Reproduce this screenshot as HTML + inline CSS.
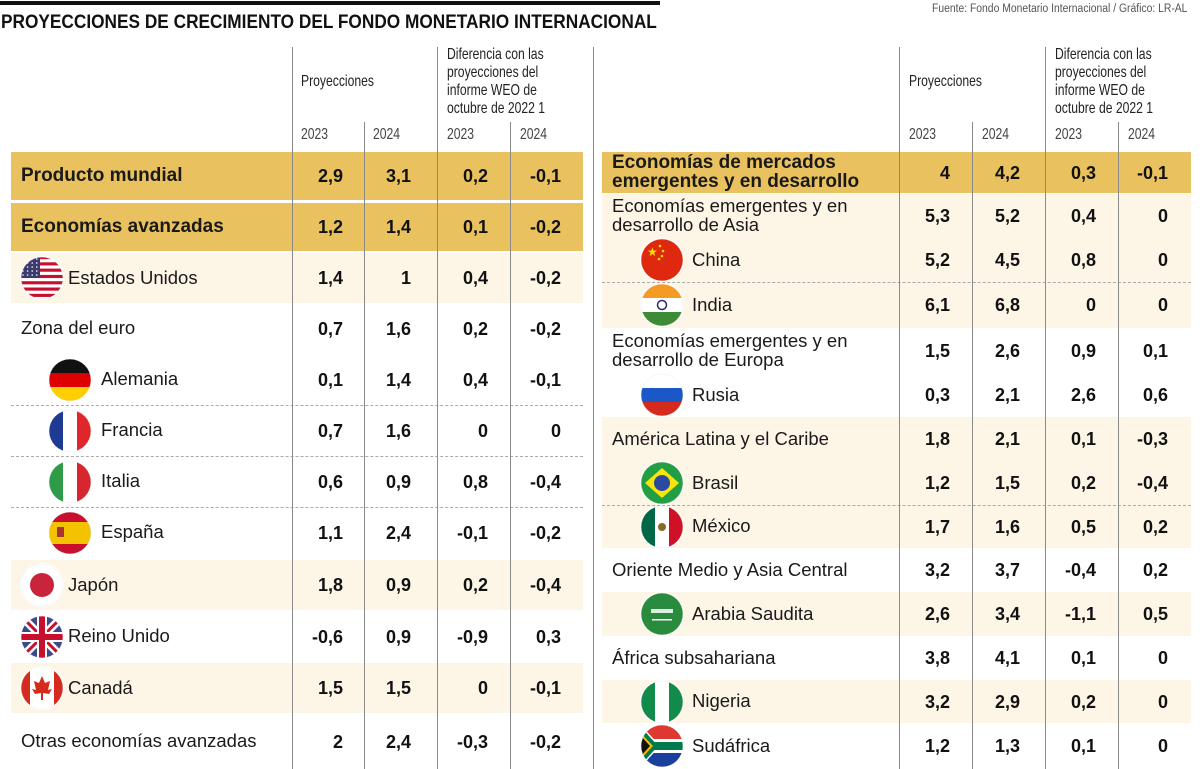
<!DOCTYPE html>
<html><head><meta charset="utf-8">
<style>
html,body{margin:0;padding:0;background:#fff;}
#root{position:relative;width:1200px;height:769px;overflow:hidden;font-family:"Liberation Sans",sans-serif;color:#111;}
.abs{position:absolute;}
.cond{transform-origin:left top;transform:scaleX(0.76);white-space:nowrap;font-size:16px;color:#222;line-height:18px;}
.val{position:absolute;font-weight:bold;font-size:18px;text-align:right;width:60px;line-height:20px;}
.lab{position:absolute;font-size:18.5px;line-height:19px;white-space:nowrap;color:#1a1a1a;}
.vl{position:absolute;width:1px;background:#8a8a8a;}
.dash{position:absolute;height:0;border-top:1.5px dashed #aaa;}
</style></head>
<body>
<div id="root">
  <div class="abs" style="left:0;top:1px;width:660px;height:4px;background:#111"></div>
  <div class="abs" style="left:1px;top:11px;font-size:19.5px;font-weight:bold;white-space:nowrap;transform-origin:left top;transform:scaleX(0.885)">PROYECCIONES DE CRECIMIENTO DEL FONDO MONETARIO INTERNACIONAL</div>
  <div class="abs" style="left:932px;top:3px;font-size:11.5px;color:#555;white-space:nowrap;transform-origin:left top;transform:scaleX(0.9)">Fuente: Fondo Monetario Internacional / Gráfico: LR-AL</div>
</div>
<script>
// ---- data ----
const leftLabels=["Producto mundial","Economías avanzadas","Estados Unidos","Zona del euro","Alemania","Francia","Italia","España","Japón","Reino Unido","Canadá","Otras economías avanzadas"];
const leftProj2023=["2,9","1,2","1,4","0,7","0,1","0,7","0,6","1,1","1,8","-0,6","1,5","2"];
const leftProj2024=["3,1","1,4","1","1,6","1,4","1,6","0,9","2,4","0,9","0,9","1,5","2,4"];
const leftDiff2023=["0,2","0,1","0,4","0,2","0,4","0","0,8","-0,1","0,2","-0,9","0","-0,3"];
const leftDiff2024=["-0,1","-0,2","-0,2","-0,2","-0,1","0","-0,4","-0,2","-0,4","0,3","-0,1","-0,2"];
const leftFlags=[null,null,"us",null,"de","fr","it","es","jp","uk","ca",null];
const rightLabels=["Economías de mercados|emergentes y en desarrollo","Economías emergentes y en|desarrollo de Asia","China","India","Economías emergentes y en|desarrollo de Europa","Rusia","América Latina y el Caribe","Brasil","México","Oriente Medio y Asia Central","Arabia Saudita","África subsahariana","Nigeria","Sudáfrica"];
const rightProj2023=["4","5,3","5,2","6,1","1,5","0,3","1,8","1,2","1,7","3,2","2,6","3,8","3,2","1,2"];
const rightProj2024=["4,2","5,2","4,5","6,8","2,6","2,1","2,1","1,5","1,6","3,7","3,4","4,1","2,9","1,3"];
const rightDiff2023=["0,3","0,4","0,8","0","0,9","2,6","0,1","0,2","0,5","-0,4","-1,1","0,1","0,2","0,1"];
const rightDiff2024=["-0,1","0","0","0","0,1","0,6","-0,3","-0,4","0,2","0,2","0,5","0","0","0"];
const rightFlags=[null,null,"cn","in",null,"ru",null,"br","mx",null,"sa",null,"ng","za"];

// ---- layout (not data) ----
const GOLD="#e9c15e", CREAM="#fdf5e6";
const leftBg=["g","g","c","w","w","w","w","w","c","w","c","w"];
const leftTop=[152,203,253,303,354,405,456,507,560,611,663,714];
const leftH=[48,48,50,51,51,51,51,51,50,51,50,55];
const leftDash=[5,6,7];
const leftIndent=[0,0,0,0,1,1,1,1,0,0,0,0];
const rightBg=["g","c","c","c","w","w","c","c","c","w","c","w","c","w"];
const rightTop=[152,194,238,282,328,373,417,461,505,548,592,636,680,723];
const rightH=[41,44,44,46,45,44,44,44,43,44,44,44,43,46];
const rightDash=[3,8];
const rightIndent=[0,0,1,1,0,1,0,1,1,0,1,0,1,1];

const root=document.getElementById('root');
function mk(tag,cls,style,html){const e=document.createElement(tag);if(cls)e.className=cls;if(style)e.style.cssText=style;if(html!==undefined)e.innerHTML=html;root.appendChild(e);return e;}

function flagSvg(c){
  let inner="";
  switch(c){
    case"us":{for(let i=0;i<7;i++)inner+=`<rect x="0" y="${i*6.3}" width="44" height="3.15" fill="#c8102e"/>`;inner+=`<rect x="0" y="0" width="20" height="22" fill="#3c3b6e"/>`;for(let r=0;r<5;r++)for(let k=0;k<4;k++)inner+=`<circle cx="${3+k*4.6}" cy="${3+r*4}" r="0.8" fill="#fff"/>`;break;}
    case"de":inner=`<rect width="44" height="15" fill="#111"/><rect y="15" width="44" height="14" fill="#dd0000"/><rect y="29" width="44" height="15" fill="#ffce00"/>`;break;
    case"fr":inner=`<rect width="15" height="44" fill="#1f3a93"/><rect x="29" width="15" height="44" fill="#e1262b"/>`;break;
    case"it":inner=`<rect width="15" height="44" fill="#2f9a48"/><rect x="29" width="15" height="44" fill="#d8262f"/>`;break;
    case"es":inner=`<rect width="44" height="44" fill="#c8102e"/><rect y="11" width="44" height="22" fill="#f4c300"/><rect x="9" y="16" width="7" height="10" fill="#a33"/>`;break;
    case"jp":inner=`<circle cx="22" cy="22" r="12" fill="#c8243c"/>`;break;
    case"uk":inner=`<rect width="44" height="44" fill="#3c4a8c"/><path d="M0 0L44 44M44 0L0 44" stroke="#fff" stroke-width="8"/><path d="M0 0L44 44M44 0L0 44" stroke="#c8102e" stroke-width="3"/><rect x="17" width="10" height="44" fill="#fff"/><rect y="17" width="44" height="10" fill="#fff"/><rect x="19" width="6" height="44" fill="#c8102e"/><rect y="19" width="44" height="6" fill="#c8102e"/>`;break;
    case"ca":inner=`<rect width="10" height="44" fill="#d52b1e"/><rect x="34" width="10" height="44" fill="#d52b1e"/><path d="M22 10L25 17L30 15L28 24L32 23L29 28L23 27L23 34L21 34L21 27L15 28L12 23L16 24L14 15L19 17Z" fill="#d52b1e"/>`;break;
    case"cn":inner=`<rect width="44" height="44" fill="#de2910"/><text x="7" y="18" font-size="12" fill="#ffde00">★</text><circle cx="20" cy="8" r="1.3" fill="#ffde00"/><circle cx="23" cy="13" r="1.3" fill="#ffde00"/><circle cx="22" cy="18" r="1.3" fill="#ffde00"/><circle cx="19" cy="21" r="1.3" fill="#ffde00"/>`;break;
    case"in":inner=`<rect width="44" height="15" fill="#f49b26"/><rect y="29" width="44" height="15" fill="#3d8b37"/><circle cx="22" cy="22" r="4.5" fill="none" stroke="#2a2a7a" stroke-width="1.5"/>`;break;
    case"ru":inner=`<rect y="15" width="44" height="14" fill="#1c57c8"/><rect y="29" width="44" height="15" fill="#d52b1e"/>`;break;
    case"br":inner=`<rect width="44" height="44" fill="#229e45"/><path d="M22 7L39 22L22 37L5 22Z" fill="#f8e509"/><circle cx="22" cy="22" r="8" fill="#2b49a3"/>`;break;
    case"mx":inner=`<rect width="15" height="44" fill="#006847"/><rect x="29" width="15" height="44" fill="#ce1126"/><circle cx="22" cy="22" r="4" fill="#8a6a2a"/>`;break;
    case"sa":inner=`<rect width="44" height="44" fill="#2a8a3e"/><rect x="11" y="17" width="22" height="4" fill="#fff" opacity="0.85"/><rect x="12" y="27" width="20" height="1.5" fill="#fff"/>`;break;
    case"ng":inner=`<rect width="15" height="44" fill="#118a4a"/><rect x="29" width="15" height="44" fill="#118a4a"/>`;break;
    case"za":inner=`<rect width="44" height="15" fill="#de3831"/><rect y="29" width="44" height="15" fill="#1b3f9c"/><path d="M0 0L20 22L0 44" fill="#fff"/><rect y="16" width="44" height="12" fill="#fff"/><rect y="18" width="44" height="8" fill="#007a4d"/><path d="M0 2L18 22L0 42Z" fill="#007a4d"/><path d="M0 8L13 22L0 36Z" fill="#f4b800"/><path d="M0 11L10 22L0 33Z" fill="#111"/>`;break;
  }
  return `<svg width="44" height="44" viewBox="0 0 44 44"><defs><clipPath id="cp${c}"><circle cx="22" cy="22" r="21"/></clipPath></defs><circle cx="22" cy="22" r="22" fill="#fff"/><g clip-path="url(#cp${c})">${inner}</g><circle cx="22" cy="22" r="21" fill="none" stroke="#eee" stroke-width="0.5"/></svg>`;
}

function buildTable(side,labels,p23,p24,d23,d24,flags,bg,tops,hs,dashes,indents,x0,x1,valRights,flagX,labX,labXind,flagXind){
  labels.forEach((lab,i)=>{
    const t=tops[i],h=hs[i];
    if(bg[i]!=="w"){
      const r=mk('div','abs',`left:${x0}px;top:${t}px;width:${x1-x0}px;height:${h}px;background:${bg[i]==="g"?GOLD:CREAM}`);
      
      
    }
    const cy=t+h/2;
    const lines=lab.split("|");
    const bold=bg[i]==="g";
    let lx=indents[i]?labXind:(flags[i]?labX:x0+10);
    if(flags[i]){
      const fx=indents[i]?flagXind:flagX;
      const f=mk('div','abs',`left:${fx}px;top:${cy-22}px;width:44px;height:44px`,flagSvg(flags[i]));
      
      
    }
    const l=mk('div','lab',`left:${lx}px;top:${cy-lines.length*9.5-1}px;font-weight:${bold?'bold':'normal'};font-size:${bold?19:18.5}px`,lines.join("<br>"));
    
    
    [p23[i],p24[i],d23[i],d24[i]].forEach((v,k)=>{
      const e=mk('div','val',`left:${valRights[k]-60}px;top:${cy-10}px`,v);
      
      
    });
  });
  dashes.forEach(i=>{
    const d=mk('div','dash',`left:${x0}px;top:${tops[i]}px;width:${x1-x0}px`);
    
    
  });
}

buildTable("left",leftLabels,leftProj2023,leftProj2024,leftDiff2023,leftDiff2024,leftFlags,leftBg,leftTop,leftH,leftDash,leftIndent,11,583,[343,411,488,561],20,68,101,48);
buildTable("right",rightLabels,rightProj2023,rightProj2024,rightDiff2023,rightDiff2024,rightFlags,rightBg,rightTop,rightH,rightDash,rightIndent,602,1191,[950,1020,1096,1168],640,692,692,640);

// vertical lines
[[292,47],[364,122],[437,47],[510,122],[593,47],[899,47],[972,122],[1045,47],[1118,122]].forEach(([x,y])=>{
  const v=mk('div','vl',`left:${x}px;top:${y}px;height:${769-y}px`);
  
  
});

// headers
function headers(side,px,dx,yrs){
  const p=mk('div','abs cond',`left:${px}px;top:73px`,"Proyecciones");
  
  
  const d=mk('div','abs cond',`left:${dx}px;top:46px`,"Diferencia con las<br>proyecciones del<br>informe WEO de<br>octubre de 2022 1");
  
  
  yrs.forEach((x,k)=>{
    const y=mk('div','abs cond',`left:${x}px;top:126px;color:#444`,k%2?"2024":"2023");
    
    
  });
}
headers("left",301,447,[301,373,447,520]);
headers("right",909,1055,[909,982,1055,1128]);
</script>
</body></html>
